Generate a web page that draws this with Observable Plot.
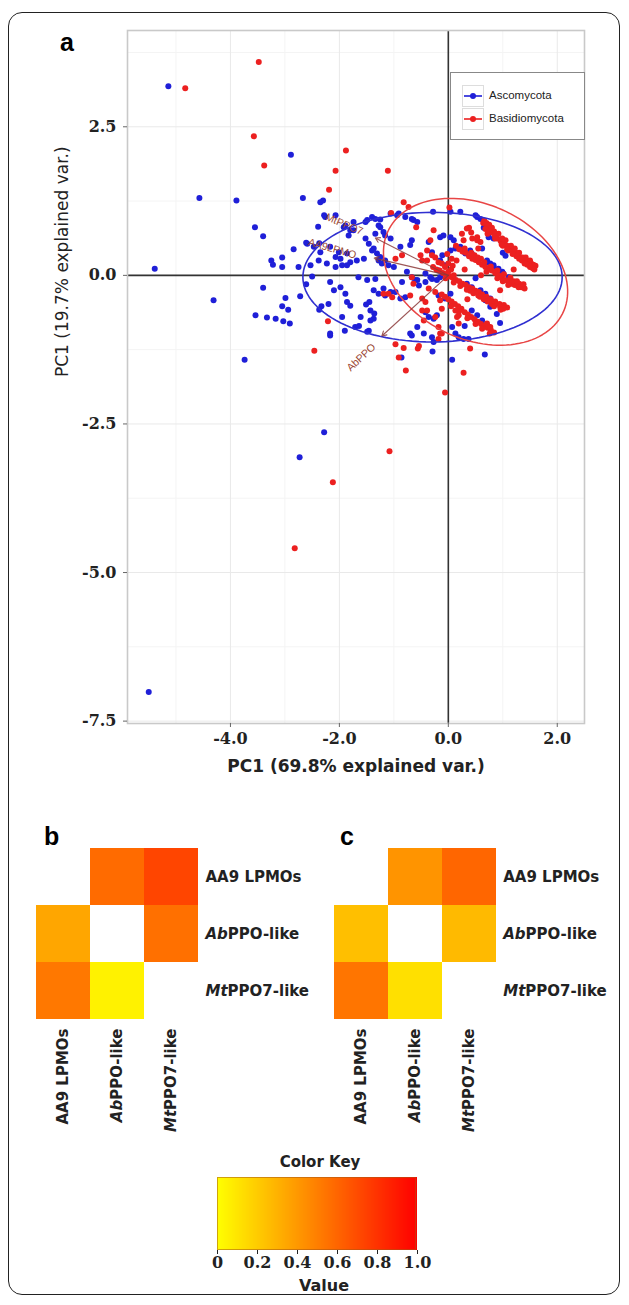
<!DOCTYPE html>
<html><head><meta charset="utf-8">
<script src="https://cdn.jsdelivr.net/npm/d3@7"></script>
<script src="https://cdn.jsdelivr.net/npm/@observablehq/plot@0.6"></script>
<style>
html,body{margin:0;padding:0;background:#fff;}
#root{position:relative;width:629px;height:1305px;overflow:hidden;font-family:"DejaVu Sans",sans-serif;background:#fff;}
.abs{position:absolute;}
.frame{left:8px;top:12px;width:612px;height:1283px;border:1.5px solid #222;border-radius:14px;box-sizing:border-box;}
.plabel{font-family:"Liberation Sans",Arial,sans-serif;font-weight:bold;font-size:25px;line-height:1;}
.leg{font-family:"Liberation Sans",Arial,sans-serif;font-size:11.5px;color:#222;line-height:1;}
.key{width:22px;height:22px;border:1px solid #ddd;box-sizing:border-box;background:#fff;}
</style></head><body><div id="root"></div>
<script>
// ---------- DATA ----------
const ascomycota = [
[-5.14,3.18],[-5.39,0.11],[-4.57,1.30],[-3.89,1.26],[-2.89,2.03],[-2.67,1.30],[-2.35,1.23],[-2.30,1.26],[-3.55,0.81],[-3.40,0.66],[-2.84,0.44],[-3.05,0.30],[-3.25,0.25],[-3.22,0.18],[-2.61,0.55],[-2.39,0.82],[-2.37,0.54],[-2.28,1.01],[-2.07,1.01],[-4.31,-0.42],[-3.40,-0.21],[-3.54,-0.67],[-3.33,-0.71],[-3.17,-0.73],[-3.03,-0.77],[-2.91,-0.81],[-3.05,-0.52],[-2.94,-0.58],[-2.99,-0.38],[-2.72,-0.35],[-2.61,-0.15],[-3.74,-1.42],[-2.17,-1.01],[-2.37,-0.58],[-1.90,-0.93],[-1.64,-0.85],[-1.49,-0.95],[-1.51,-0.49],[-1.36,-0.64],[-2.28,-2.64],[-2.73,-3.06],[-5.50,-7.01],[0.07,-1.42],[0.67,-1.33],[-0.86,-1.38],[-0.29,-1.28],
[-2.26,0.98],[-1.92,0.81],[-1.83,0.67],[-1.74,0.76],[-1.49,0.93],[-1.40,0.98],[-1.25,0.81],[-1.19,0.73],[-1.06,0.62],[-1.34,0.70],[-1.06,1.04],[-0.94,1.01],[-0.79,0.98],[-0.64,0.93],[-0.57,0.90],[-1.52,0.62],[-1.46,0.53],[-1.37,0.45],[-1.31,0.37],[-1.25,0.31],[-1.16,0.25],[-2.59,0.53],[-2.47,0.48],[-2.35,0.39],[-2.17,0.48],[-2.01,0.39],[-1.86,0.37],[-1.68,0.25],[-1.55,0.28],[-3.05,0.14],[-2.75,0.14],[-2.53,0.17],[-2.23,0.20],[-2.07,0.14],[-1.95,0.17],[-1.80,0.22],[-2.50,-0.02],[-2.17,-0.11],[-2.10,-0.25],[-1.98,-0.20],[-1.89,-0.31],[-1.86,-0.45],[-1.80,-0.51],[-1.65,-0.03],[-1.49,-0.08],[-2.33,-0.52],[-2.17,-0.98],[-1.95,-0.70],[-1.61,-0.70],[-1.45,-0.45],[-1.43,-0.76],[-1.37,-0.25],[-1.28,-0.31],[-1.19,-0.22],[-1.06,-0.28],[-0.70,-0.98],[-0.57,-0.87],[-0.45,-0.98],[-0.27,-1.12],
[0.22,1.07],[0.50,1.01],[0.04,1.07],[-0.28,1.07],[0.65,0.80],[0.70,0.82],[0.74,0.64],[0.83,0.62],[1.10,0.48],[0.71,0.22],[0.83,0.17],[0.92,0.11],[0.99,0.06],[0.04,0.42],[0.13,0.45],[0.40,0.42],[0.43,0.37],
[0.59,-0.25],[0.68,-0.31],[0.77,-0.39],[0.83,-0.45],[0.43,-0.59],[0.53,-0.67],[0.62,-0.76],[0.68,-0.84],[0.07,-0.87],[0.13,-0.98],[0.19,-1.04],[0.28,-1.07],[0.37,-1.07],[-0.18,-0.34],[-0.06,-0.39],[0.04,-0.31],[-0.36,-0.70],[-0.27,-0.73],[-0.21,-0.67],[-0.42,-0.62],[-0.67,-1.01],[-0.30,-1.04],[-0.97,-0.28],[-0.88,-0.39],[-0.79,-0.37],[-1.16,-0.34],[-1.34,-0.06],[-0.85,-0.11],[-0.61,-0.08],[-0.54,-0.17],[-0.42,-0.11],[-0.30,-0.06],[-1.43,-0.59],[-1.37,-0.73],[-2.20,-0.48],[-1.71,-0.87],[-1.46,-0.93],
[-1.52,0.90],[-1.34,0.95],[-1.25,0.94],[-1.74,0.90],[-1.28,0.84],[-1.16,0.67],[-0.91,1.04],[-0.67,0.95],[-1.40,0.42],[-0.67,0.59],[-0.70,0.51],[-0.88,0.48],[-1.28,0.25],[-1.22,0.20],[-1.10,0.17],[-1.00,0.14],[-2.07,0.31],[-1.98,0.28],[-1.86,0.17],[-2.38,0.25],[-0.30,0.39],[-0.36,0.56],[-1.80,0.76],[-1.89,0.84],
[-0.15,0.25],[-0.06,0.17],[-0.18,0.08],[-0.11,0.34],
[0.71,0.25],[0.77,0.20],[0.83,0.14],[0.92,0.08],[1.01,0.03],[1.11,-0.03],[1.20,-0.14],
[0.34,-0.14],[0.43,-0.20],[0.68,-0.42],[0.77,-0.53],[0.89,-0.65],[0.74,-0.87],
[0.04,0.64],[0.10,0.59],[0.22,0.48],[0.31,0.37],[-0.15,0.64],[-0.09,0.67],[0.53,0.98],[0.59,0.95],
[-0.42,0.03],[-0.33,-0.03],[-0.21,-0.08],[-0.15,-0.03],[-0.76,0.06],[-0.67,-0.03],[-0.57,-0.08],
[1.00,0.38],[1.05,0.33],[0.62,0.45],[0.50,-0.05],[0.95,-0.80],[0.30,-0.85]
];
const basidiomycota = [
[-4.83,3.15],[-3.48,3.59],[-3.57,2.34],[-3.38,1.85],[-1.88,2.10],[-2.07,1.76],[-2.19,1.44],[-1.11,1.76],[-2.46,-1.27],[-2.21,-0.77],[-1.08,-2.96],[-2.12,-3.48],[-2.82,-4.59],[-0.06,-1.97],[0.28,-1.64],[-0.78,-1.60],[-0.97,-1.16],[-0.82,-1.22],[-0.56,-1.23],[-0.54,-1.19],[0.40,-1.23],[-0.91,-1.38],[-0.82,1.23],[-0.73,1.15],[-1.05,1.05],[-0.59,0.81],[-0.85,0.34],[-0.51,0.34],[-0.48,0.25],[-0.33,0.59],[-0.27,0.76],[0.02,1.14],[-1.19,-0.31],[-1.03,-0.37],[-0.70,-0.34],[-0.36,-0.22],[-0.24,-0.28],[-0.15,-0.42],[-0.12,-0.56],[-0.48,-0.59],[-0.45,-0.76],[-0.12,-0.98],[-0.18,-1.07],[0.19,-0.67],[0.19,-0.81],[-0.48,-0.39],[-0.42,-0.45],
[0.64,0.88],[0.70,0.80],[0.74,0.84],[0.80,0.72],[0.85,0.68],[0.90,0.62],[0.96,0.58],[1.02,0.56],[1.08,0.50],[1.12,0.46],[1.16,0.44],[1.20,0.40],[1.24,0.38],[1.28,0.34],[1.32,0.30],[1.36,0.30],[1.40,0.26],[1.44,0.24],[1.48,0.22],[1.52,0.20],[1.56,0.18],[1.60,0.16],[1.30,0.38],[1.22,0.45],[1.42,0.30],[1.50,0.25],[1.15,0.50],[0.92,0.70],[0.78,0.76],[0.66,0.92],[0.70,0.88],[0.75,0.85],[0.80,0.80],[0.84,0.74],[0.86,0.66],[0.68,0.78],[0.72,0.70],
[0.38,0.80],[0.42,0.72],[0.44,0.62],[0.28,0.59],[0.99,0.62],[1.05,0.59],[0.53,0.59],[0.59,0.56],[0.34,0.79],[0.53,0.64],
[1.25,0.32],[1.35,0.25],[1.45,0.18],[1.55,0.12],[1.10,0.42],[1.00,0.50],
[0.75,0.74],[0.86,0.62],[0.98,0.52],[1.08,0.44],[1.18,0.36],[1.30,0.28],[1.40,0.20],[1.50,0.14],[1.58,0.10],
[0.14,0.50],[0.20,0.44],[0.26,0.40],[0.32,0.38],[0.38,0.32],[0.44,0.28],[0.50,0.26],[0.56,0.22],[0.62,0.18],[0.68,0.14],[0.74,0.10],[0.80,0.08],[0.86,0.04],[0.92,0.00],[0.98,-0.04],[1.04,-0.08],[1.10,-0.10],[1.16,-0.14],[1.22,-0.16],[1.28,-0.18],[1.34,-0.20],[1.40,-0.22],[1.20,-0.10],[1.30,-0.14],[0.60,0.28],[0.48,0.34],[1.17,-0.11],[1.29,-0.20],[0.90,-0.05],[1.00,-0.10],[1.10,-0.16],[0.70,0.06],
[0.30,0.45],[0.42,0.38],[0.54,0.30],[0.66,0.22],[0.78,0.15],[0.90,0.08],[1.02,0.02],[1.14,-0.04],[1.26,-0.10],[1.38,-0.15],
[-0.28,0.14],[-0.22,0.10],[-0.16,0.08],[-0.10,0.04],[-0.04,0.02],[0.02,-0.02],[0.08,-0.04],[0.14,-0.08],[0.20,-0.10],[0.26,-0.14],[0.32,-0.16],[0.38,-0.20],[0.44,-0.22],[0.50,-0.26],[0.56,-0.28],[0.62,-0.32],[0.70,-0.36],[0.78,-0.40],[0.86,-0.44],[0.94,-0.48],[1.02,-0.50],[1.08,-0.54],[0.00,0.06],[0.10,0.00],[-0.05,-0.05],[0.05,0.10],[0.86,-0.48],[0.95,-0.53],[1.01,-0.56],[0.55,-0.34],[0.65,-0.40],[0.80,-0.48],[0.40,-0.26],
[0.10,-0.12],[0.22,-0.18],[0.34,-0.24],[0.46,-0.30],[0.58,-0.36],[0.72,-0.44],[0.84,-0.52],[0.96,-0.58],
[-0.12,-0.32],[-0.06,-0.36],[0.00,-0.40],[0.06,-0.44],[0.12,-0.48],[0.18,-0.52],[0.24,-0.56],[0.30,-0.62],[0.36,-0.66],[0.42,-0.70],[0.48,-0.74],[0.54,-0.78],[0.60,-0.82],[0.66,-0.86],[0.72,-0.88],[0.78,-0.92],[0.84,-0.96],[0.71,-0.81],[0.77,-0.87],
[0.05,-0.52],[0.20,-0.60],[0.35,-0.72],[0.50,-0.82],[0.62,-0.90],[0.76,-0.98],
[-0.39,0.42],[-0.30,0.34],[-0.24,0.30],[-0.18,0.22],[-0.12,0.20],[-0.06,0.14],[0.00,0.20],[0.06,0.28],[-0.02,0.36],[0.08,0.16],
[-0.97,0.28],[-1.10,-0.31],[-0.39,0.25],[-0.67,-0.03],[-0.64,-0.14],[-0.39,-0.59],[-0.24,-0.70],[-0.18,-0.87],[-0.15,-0.98],[0.13,-0.59],[0.16,-0.70],
[0.25,0.70],[0.55,0.45],[0.30,0.10],[0.60,0.00],[0.35,-0.40],[0.95,-0.25],[1.20,0.10],[0.15,0.25]
];
// ellipse parameters (centre, semi-axes, tilt in degrees)
const ellipseParams = [
  {group:"Ascomycota", cx:-0.29, cy:-0.03, a:2.38, b:1.09, angle:0},
  {group:"Basidiomycota", cx:0.50, cy:0.06, a:1.75, b:1.15, angle:-20}
];
// loading vectors
const loadings = [
  {name:"MtPPO7", x:-1.34, y:0.63, lx:-1.91, ly:0.86, rot:23},
  {name:"AA9LPMO", x:-1.36, y:0.29, lx:-2.13, ly:0.45, rot:16},
  {name:"AbPPO", x:-1.22, y:-1.02, lx:-1.60, ly:-1.38, rot:-43}
];
const xTicks = [-4, -2, 0, 2];
const xMinor = [-5, -3, -1, 1];
const yTicks = [-7.5, -5, -2.5, 0, 2.5];
const yMinor = [-6.25, -3.75, -1.25, 1.25, 3.75];
const groups = ["Ascomycota", "Basidiomycota"];

// heatmaps
const heatLabels = ["AA9 LPMOs", "AbPPO-like", "MtPPO7-like"];
const valuesB = [[null, 0.58, 0.73],[0.35, null, 0.56],[0.53, 0.05, null]];
const valuesC = [[null, 0.42, 0.60],[0.25, null, 0.27],[0.54, 0.12, null]];
const keyTicks = [0, 0.2, 0.4, 0.6, 0.8, 1.0];

// ---------- STYLE ----------
const BLUE = "#1f1fd8", RED = "#ec2020";
const root = document.getElementById("root");
function place(el, left, top){ el.style.position="absolute"; el.style.left=left+"px"; el.style.top=top+"px"; root.appendChild(el); return el; }
function div(cls, html, left, top, extra){ const d=document.createElement("div"); d.className="abs "+(cls||""); d.innerHTML=html; d.style.left=left+"px"; d.style.top=top+"px"; if(extra) Object.assign(d.style, extra); root.appendChild(d); return d; }

// ---------- PANEL A ----------
const ellPts = ellipseParams.flatMap(e => d3.range(0, 361, 3).map(t => {
  const r = t*Math.PI/180, th = e.angle*Math.PI/180;
  const u = e.a*Math.cos(r), v = e.b*Math.sin(r);
  return {group:e.group, x:e.cx + u*Math.cos(th) - v*Math.sin(th), y:e.cy + u*Math.sin(th) + v*Math.cos(th)};
}));
const fmt1 = d => d.toFixed(1);
const pa = Plot.plot({
  width: 629, height: 800,
  marginLeft: 127, marginRight: 45, marginTop: 30, marginBottom: 77,
  x: {domain: [-5.89, 2.50]},
  y: {domain: [-7.54, 4.12]},
  style: {background: "transparent", fontFamily: "DejaVu Sans", overflow: "visible"},
  marks: [
    Plot.frame({fill: "#fff"}),
    Plot.gridX(xMinor, {stroke: "#f4f4f4", strokeOpacity: 1}),
    Plot.gridY(yMinor, {stroke: "#f4f4f4", strokeOpacity: 1}),
    Plot.gridX(xTicks, {stroke: "#e9e9e9", strokeOpacity: 1}),
    Plot.gridY(yTicks, {stroke: "#e9e9e9", strokeOpacity: 1}),
    Plot.ruleX([0], {stroke: "#333", strokeWidth: 1.6}),
    Plot.ruleY([0], {stroke: "#333", strokeWidth: 1.6}),
    Plot.dot(ascomycota, {x: d => d[0], y: d => d[1], r: 3, fill: BLUE}),
    Plot.dot(basidiomycota, {x: d => d[0], y: d => d[1], r: 3, fill: RED}),
    Plot.line(ellPts.filter(d => d.group === groups[0]), {x: "x", y: "y", stroke: "#3030d0", strokeWidth: 1.6}),
    Plot.line(ellPts.filter(d => d.group === groups[1]), {x: "x", y: "y", stroke: "#e84545", strokeWidth: 1.5}),
    Plot.arrow(loadings, {x1: () => 0, y1: () => 0, x2: "x", y2: "y", stroke: "#8b3a3a", strokeOpacity: 0.85, strokeWidth: 1.1, headLength: 7}),
    Plot.text(loadings, {x: "lx", y: "ly", text: "name", rotate: "rot", fill: "#9a4632", fontSize: 10.5, fontFamily: "Liberation Sans"}),
    Plot.frame({stroke: "#c9c9c9", strokeWidth: 1.6}),
    Plot.axisX(xTicks, {tickFormat: fmt1, tickSize: 4, tickPadding: 5, fontSize: 16, fontFamily: "DejaVu Serif", fontWeight: "bold", stroke: "#666", fill: "#222", label: null}),
    Plot.axisY(yTicks, {tickFormat: fmt1, tickSize: 4, tickPadding: 7, fontSize: 16, fontFamily: "DejaVu Serif", fontWeight: "bold", stroke: "#666", fill: "#222", label: null}),
    Plot.text(["PC1 (69.8% explained var.)"], {text: d => d, frameAnchor: "bottom", dy: 48, fontSize: 17, fontWeight: "bold", fill: "#222"}),
    Plot.text(["PC1 (19.7% explained var.)"], {text: d => d, frameAnchor: "left", dx: -65, rotate: -90, fontSize: 17, fill: "#222"})
  ]
});
place(pa, 0, 0);

// legend of panel a
div("", "", 450, 72, {width:"135px", height:"68px", background:"#fff", border:"1px solid #888", boxSizing:"border-box"});
groups.forEach((g, i) => {
  const col = i === 0 ? BLUE : RED;
  div("key", `<svg width="20" height="20" style="display:block"><line x1="1" x2="19" y1="10" y2="10" stroke="${col}" stroke-width="1.6"/><circle cx="10" cy="10" r="3" fill="${col}"/></svg>`, 462, 85 + i*23);
  div("leg", g, 489, 90 + i*23);
});
div("plabel", "a", 60, 30);

// ---------- PANELS B & C ----------
function heatTable(vals){
  const t = [];
  vals.forEach((row, i) => row.forEach((v, j) => { if (v != null) t.push({row: heatLabels[i], col: heatLabels[j], v}); }));
  return t;
}
function heat(vals, mLeft, mRight){
  const svg = Plot.plot({
    width: 320, height: 330,
    marginLeft: mLeft, marginRight: mRight, marginTop: 47, marginBottom: 110,
    x: {domain: heatLabels, padding: 0},
    y: {domain: heatLabels, padding: 0},
    color: {type: "linear", domain: [0, 1], range: ["#ffff00", "#ff0000"], interpolate: "rgb"},
    style: {background: "transparent", fontFamily: "DejaVu Sans", overflow: "visible"},
    marks: [
      Plot.cell(heatTable(vals), {x: "col", y: "row", fill: "v", inset: 0}),
      Plot.axisY({anchor: "right", tickSize: 0, tickPadding: 6, fontSize: 15, fontWeight: "bold", fill: "#222", label: null}),
      Plot.axisX({anchor: "bottom", tickSize: 0, tickPadding: 8, tickRotate: -90, fontSize: 15, fontWeight: "bold", fill: "#222", label: null})
    ]
  });
  svg.querySelectorAll("text").forEach(el => {
    const t = el.textContent;
    const m = t.match(/^(Ab|Mt)(PPO.*)$/);
    if (m) {
      el.textContent = "";
      const ns = "http://www.w3.org/2000/svg";
      const a = document.createElementNS(ns, "tspan"); a.setAttribute("font-style", "italic"); a.textContent = m[1];
      const b = document.createElementNS(ns, "tspan"); b.textContent = m[2];
      el.appendChild(a); el.appendChild(b);
    }
  });
  return svg;
}
place(heat(valuesB, 35, 121), 0, 800);
place(heat(valuesC, 22.7, 133.3), 310, 800);
div("plabel", "b", 44, 824);
div("plabel", "c", 340, 824);

// ---------- COLOR KEY ----------
const key = Plot.legend({
  color: {type: "linear", domain: [0, 1], range: ["#ffff00", "#ff0000"], interpolate: "rgb"},
  label: null,
  width: 229, height: 103, marginTop: 0, marginBottom: 30, marginLeft: 15, marginRight: 14,
  ticks: keyTicks, tickFormat: d => d === 0 ? "0" : d.toFixed(1), tickSize: 4, tickPadding: 6,
  style: {fontSize: "16px", fontFamily: "DejaVu Serif", fontWeight: "bold", background: "transparent", color: "#222", overflow: "visible"}
});
key.querySelectorAll(".tick line").forEach(l => { l.setAttribute("y1", 0); l.setAttribute("y2", 4); });
place(key, 202, 1177);
div("", "", 217, 1177, {width:"199px", height:"73px", border:"1px solid rgba(170,90,20,0.55)", boxSizing:"border-box"});
div("", "Color Key", 260, 1153, {width:"120px", textAlign:"center", fontWeight:"bold", fontSize:"15px", color:"#222"});
div("", "Value", 264, 1276, {width:"120px", textAlign:"center", fontWeight:"bold", fontSize:"16px", color:"#222"});

// outer frame
div("frame", "", 8, 12);
</script></body></html>
